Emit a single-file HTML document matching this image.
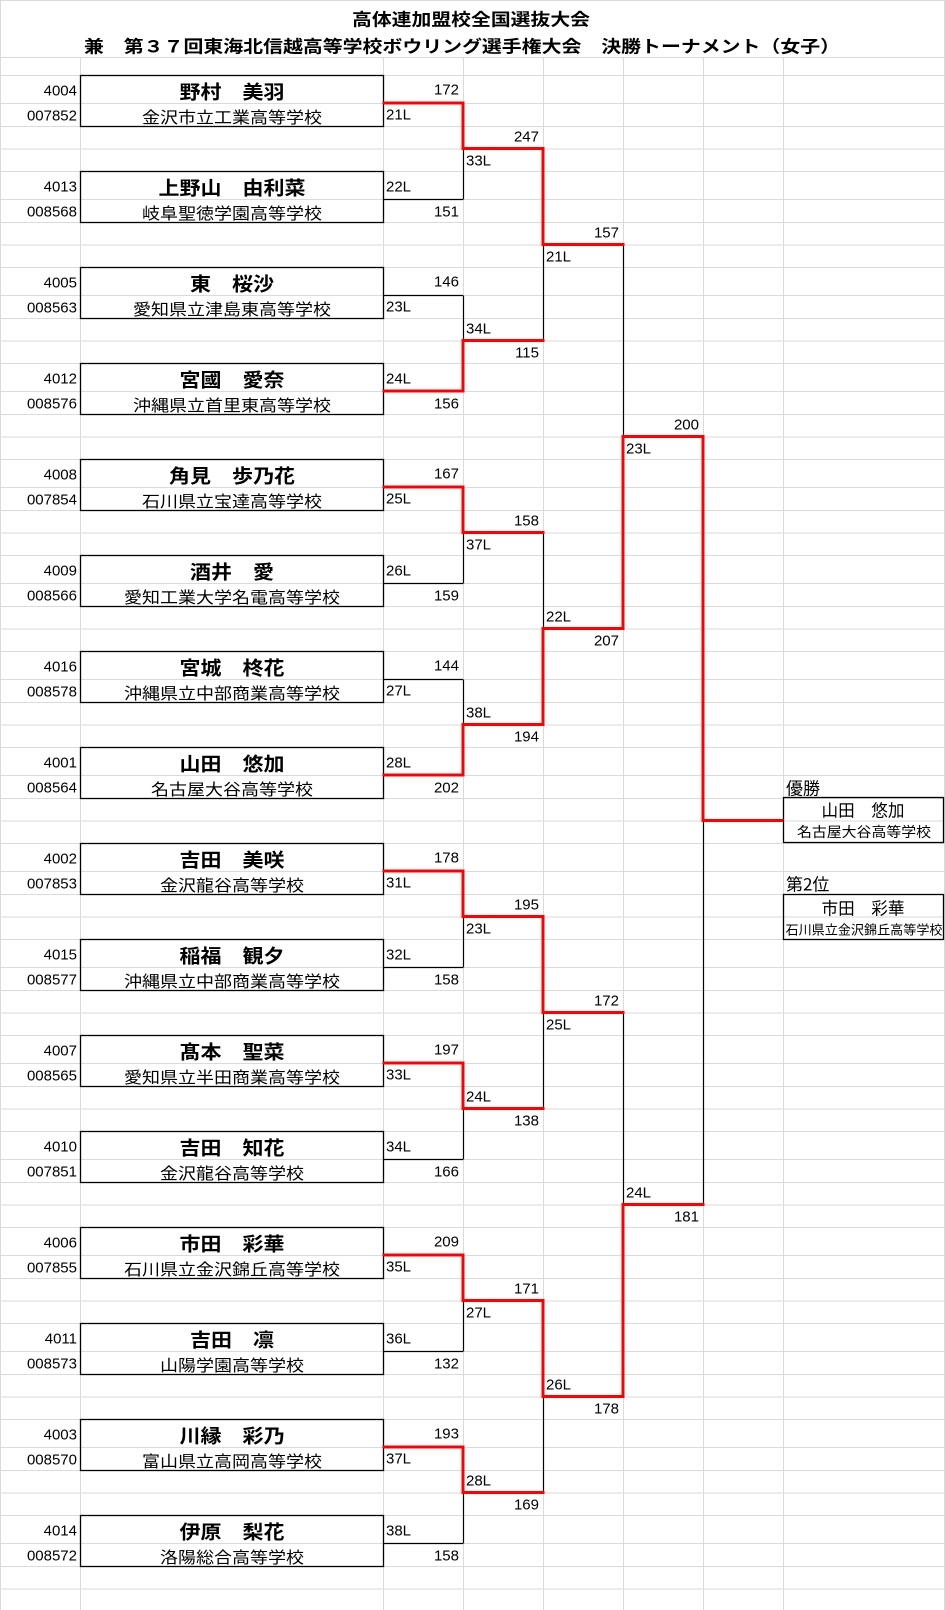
<!DOCTYPE html>
<html><head><meta charset="utf-8"><style>
html,body{margin:0;padding:0;background:#fff;}
svg{display:block;}
text{font-family:"Liberation Sans","Noto Sans CJK JP",sans-serif;fill:#000;dominant-baseline:central;}
.j{font-family:"Noto Sans CJK JP","Liberation Sans",sans-serif;}
.nm{font-size:19px;font-weight:bold;text-anchor:middle;}
.sc{font-size:16px;text-anchor:middle;}
.id{font-size:15px;text-anchor:end;}
.r{font-size:15px;text-anchor:end;}
.l{font-size:15px;text-anchor:start;}
.tt{font-size:17px;font-weight:bold;text-anchor:middle;}
</style></head><body>
<svg width="945" height="1610" viewBox="0 0 945 1610" xmlns="http://www.w3.org/2000/svg">
<g stroke="#dadada" stroke-width="1" fill="none">
<path d="M0 0.5H945M0 57.5H945M0 75.5H945
M0 103.5H945M0 126.5H945M0 149H945M0 171.5H945M0 199.5H945M0 222.5H945M0 245H945M0 267.5H945
M0 295.5H945M0 318.5H945M0 341H945M0 363.5H945M0 391.5H945M0 414.5H945M0 437H945M0 459.5H945
M0 487.5H945M0 510.5H945M0 533H945M0 555.5H945M0 583.5H945M0 606.5H945M0 629H945M0 651.5H945
M0 679.5H945M0 702.5H945M0 725H945M0 747.5H945M0 775.5H945M0 798.5H945M0 821H945M0 843.5H945
M0 871.5H945M0 894.5H945M0 917H945M0 939.5H945M0 967.5H945M0 990.5H945M0 1013H945M0 1035.5H945
M0 1063.5H945M0 1086.5H945M0 1109H945M0 1131.5H945M0 1159.5H945M0 1182.5H945M0 1205H945M0 1227.5H945
M0 1255.5H945M0 1278.5H945M0 1301H945M0 1323.5H945M0 1351.5H945M0 1374.5H945M0 1397H945M0 1419.5H945
M0 1447.5H945M0 1470.5H945M0 1493H945M0 1515.5H945M0 1543.5H945M0 1566.5H945M0 1589H945"/>
<path d="M0.5 0V1610M80.5 57V1610M383.5 57V1610M463.5 57V1610M543.5 57V1610M623.5 57V1610M703.5 57V1610M783.5 57V1610M944.5 0V1610"/>
</g>
<text class="tt j" x="471" y="18" textLength="238" lengthAdjust="spacingAndGlyphs">高体連加盟校全国選抜大会</text>
<text class="tt j" x="462" y="45" textLength="756" lengthAdjust="spacingAndGlyphs">兼　第３７回東海北信越高等学校ボウリング選手権大会　決勝トーナメント（女子）</text>
<g stroke="#000" stroke-width="1.3" fill="none">
<rect x="80.5" y="75.5" width="303" height="51"/>
<rect x="80.5" y="171.5" width="303" height="51"/>
<rect x="80.5" y="267.5" width="303" height="51"/>
<rect x="80.5" y="363.5" width="303" height="51"/>
<rect x="80.5" y="459.5" width="303" height="51"/>
<rect x="80.5" y="555.5" width="303" height="51"/>
<rect x="80.5" y="651.5" width="303" height="51"/>
<rect x="80.5" y="747.5" width="303" height="51"/>
<rect x="80.5" y="843.5" width="303" height="51"/>
<rect x="80.5" y="939.5" width="303" height="51"/>
<rect x="80.5" y="1035.5" width="303" height="51"/>
<rect x="80.5" y="1131.5" width="303" height="51"/>
<rect x="80.5" y="1227.5" width="303" height="51"/>
<rect x="80.5" y="1323.5" width="303" height="51"/>
<rect x="80.5" y="1419.5" width="303" height="51"/>
<rect x="80.5" y="1515.5" width="303" height="51"/>
<rect x="783.5" y="797.5" width="160" height="45"/>
<rect x="783.5" y="894.5" width="160" height="45"/>
</g>
<g stroke="#000" stroke-width="1.2" fill="none">
<path d="M383 199.5H463M383 295.5H463M383 583.5H463M383 679.5H463M383 967.5H463M383 1159.5H463M383 1351.5H463M383 1543.5H463"/>
<path d="M463.5 148.5V199.5M463.5 295.5V340.5M463.5 532.5V583.5M463.5 679.5V724.5M463.5 916.5V967.5M463.5 1108.5V1159.5M463.5 1300.5V1351.5M463.5 1492.5V1543.5"/>
<path d="M543.5 244.5V340.5M543.5 532.5V628.5M543.5 1012.5V1108.5M543.5 1396.5V1492.5"/>
<path d="M623.5 244.5V436.5M623.5 1012.5V1204.5M703.5 820.5V1204.5"/>
</g>
<g stroke="#ff0000" stroke-width="3" fill="none" stroke-linecap="square">
<path d="M384 103H463V148.5H543V244.5H623"/>
<path d="M384 391H463V340.5H543"/>
<path d="M384 487H463V532.5H543"/>
<path d="M384 775H463V724.5H543V628.5H623V436.5H703V820.5H782"/>
<path d="M384 871H463V916.5H543V1012.5H623"/>
<path d="M384 1063H463V1108.5H543"/>
<path d="M384 1255H463V1300.5H543V1396.5H623V1204.5H703"/>
<path d="M384 1447H463V1492.5H543"/>
</g>
<g>
<text class="id" x="77" y="91">4004</text><text class="id" x="77" y="116">007852</text>
<text class="nm j" x="232" y="91" textLength="105" lengthAdjust="spacingAndGlyphs">野村　美羽</text><text class="sc j" x="232" y="116" textLength="180" lengthAdjust="spacingAndGlyphs">金沢市立工業高等学校</text>
<text class="id" x="77" y="187">4013</text><text class="id" x="77" y="212">008568</text>
<text class="nm j" x="232" y="187" textLength="147" lengthAdjust="spacingAndGlyphs">上野山　由利菜</text><text class="sc j" x="232" y="212" textLength="180" lengthAdjust="spacingAndGlyphs">岐阜聖徳学園高等学校</text>
<text class="id" x="77" y="283">4005</text><text class="id" x="77" y="308">008563</text>
<text class="nm j" x="232" y="283" textLength="84" lengthAdjust="spacingAndGlyphs">東　桜沙</text><text class="sc j" x="232" y="308" textLength="198" lengthAdjust="spacingAndGlyphs">愛知県立津島東高等学校</text>
<text class="id" x="77" y="379">4012</text><text class="id" x="77" y="404">008576</text>
<text class="nm j" x="232" y="379" textLength="105" lengthAdjust="spacingAndGlyphs">宮國　愛奈</text><text class="sc j" x="232" y="404" textLength="198" lengthAdjust="spacingAndGlyphs">沖縄県立首里東高等学校</text>
<text class="id" x="77" y="475">4008</text><text class="id" x="77" y="500">007854</text>
<text class="nm j" x="232" y="475" textLength="126" lengthAdjust="spacingAndGlyphs">角見　歩乃花</text><text class="sc j" x="232" y="500" textLength="180" lengthAdjust="spacingAndGlyphs">石川県立宝達高等学校</text>
<text class="id" x="77" y="571">4009</text><text class="id" x="77" y="596">008566</text>
<text class="nm j" x="232" y="571" textLength="84" lengthAdjust="spacingAndGlyphs">酒井　愛</text><text class="sc j" x="232" y="596" textLength="216" lengthAdjust="spacingAndGlyphs">愛知工業大学名電高等学校</text>
<text class="id" x="77" y="667">4016</text><text class="id" x="77" y="692">008578</text>
<text class="nm j" x="232" y="667" textLength="105" lengthAdjust="spacingAndGlyphs">宮城　柊花</text><text class="sc j" x="232" y="692" textLength="216" lengthAdjust="spacingAndGlyphs">沖縄県立中部商業高等学校</text>
<text class="id" x="77" y="763">4001</text><text class="id" x="77" y="788">008564</text>
<text class="nm j" x="232" y="763" textLength="105" lengthAdjust="spacingAndGlyphs">山田　悠加</text><text class="sc j" x="232" y="788" textLength="162" lengthAdjust="spacingAndGlyphs">名古屋大谷高等学校</text>
<text class="id" x="77" y="859">4002</text><text class="id" x="77" y="884">007853</text>
<text class="nm j" x="232" y="859" textLength="105" lengthAdjust="spacingAndGlyphs">吉田　美咲</text><text class="sc j" x="232" y="884" textLength="144" lengthAdjust="spacingAndGlyphs">金沢龍谷高等学校</text>
<text class="id" x="77" y="955">4015</text><text class="id" x="77" y="980">008577</text>
<text class="nm j" x="232" y="955" textLength="105" lengthAdjust="spacingAndGlyphs">稲福　観夕</text><text class="sc j" x="232" y="980" textLength="216" lengthAdjust="spacingAndGlyphs">沖縄県立中部商業高等学校</text>
<text class="id" x="77" y="1051">4007</text><text class="id" x="77" y="1076">008565</text>
<text class="nm j" x="232" y="1051" textLength="105" lengthAdjust="spacingAndGlyphs">髙本　聖菜</text><text class="sc j" x="232" y="1076" textLength="216" lengthAdjust="spacingAndGlyphs">愛知県立半田商業高等学校</text>
<text class="id" x="77" y="1147">4010</text><text class="id" x="77" y="1172">007851</text>
<text class="nm j" x="232" y="1147" textLength="105" lengthAdjust="spacingAndGlyphs">吉田　知花</text><text class="sc j" x="232" y="1172" textLength="144" lengthAdjust="spacingAndGlyphs">金沢龍谷高等学校</text>
<text class="id" x="77" y="1243">4006</text><text class="id" x="77" y="1268">007855</text>
<text class="nm j" x="232" y="1243" textLength="105" lengthAdjust="spacingAndGlyphs">市田　彩華</text><text class="sc j" x="232" y="1268" textLength="216" lengthAdjust="spacingAndGlyphs">石川県立金沢錦丘高等学校</text>
<text class="id" x="77" y="1339">4011</text><text class="id" x="77" y="1364">008573</text>
<text class="nm j" x="232" y="1339" textLength="84" lengthAdjust="spacingAndGlyphs">吉田　凛</text><text class="sc j" x="232" y="1364" textLength="144" lengthAdjust="spacingAndGlyphs">山陽学園高等学校</text>
<text class="id" x="77" y="1435">4003</text><text class="id" x="77" y="1460">008570</text>
<text class="nm j" x="232" y="1435" textLength="105" lengthAdjust="spacingAndGlyphs">川縁　彩乃</text><text class="sc j" x="232" y="1460" textLength="180" lengthAdjust="spacingAndGlyphs">富山県立高岡高等学校</text>
<text class="id" x="77" y="1531">4014</text><text class="id" x="77" y="1556">008572</text>
<text class="nm j" x="232" y="1531" textLength="105" lengthAdjust="spacingAndGlyphs">伊原　梨花</text><text class="sc j" x="232" y="1556" textLength="144" lengthAdjust="spacingAndGlyphs">洛陽総合高等学校</text>
</g>
<g>
<text class="r" x="459" y="90">172</text><text class="l" x="386" y="115">21L</text>
<text class="l" x="386" y="187">22L</text><text class="r" x="459" y="212">151</text>
<text class="r" x="459" y="282">146</text><text class="l" x="386" y="307">23L</text>
<text class="l" x="386" y="379">24L</text><text class="r" x="459" y="404">156</text>
<text class="r" x="459" y="474">167</text><text class="l" x="386" y="499">25L</text>
<text class="l" x="386" y="571">26L</text><text class="r" x="459" y="596">159</text>
<text class="r" x="459" y="666">144</text><text class="l" x="386" y="691">27L</text>
<text class="l" x="386" y="763">28L</text><text class="r" x="459" y="788">202</text>
<text class="r" x="459" y="858">178</text><text class="l" x="386" y="883">31L</text>
<text class="l" x="386" y="955">32L</text><text class="r" x="459" y="980">158</text>
<text class="r" x="459" y="1050">197</text><text class="l" x="386" y="1075">33L</text>
<text class="l" x="386" y="1147">34L</text><text class="r" x="459" y="1172">166</text>
<text class="r" x="459" y="1242">209</text><text class="l" x="386" y="1267">35L</text>
<text class="l" x="386" y="1339">36L</text><text class="r" x="459" y="1364">132</text>
<text class="r" x="459" y="1434">193</text><text class="l" x="386" y="1459">37L</text>
<text class="l" x="386" y="1531">38L</text><text class="r" x="459" y="1556">158</text>
</g>
<g>
<text class="r" x="539" y="137">247</text><text class="l" x="466" y="161">33L</text>
<text class="l" x="466" y="329">34L</text><text class="r" x="539" y="353">115</text>
<text class="r" x="539" y="521">158</text><text class="l" x="466" y="545">37L</text>
<text class="l" x="466" y="713">38L</text><text class="r" x="539" y="737">194</text>
<text class="r" x="539" y="905">195</text><text class="l" x="466" y="929">23L</text>
<text class="l" x="466" y="1097">24L</text><text class="r" x="539" y="1121">138</text>
<text class="r" x="539" y="1289">171</text><text class="l" x="466" y="1313">27L</text>
<text class="l" x="466" y="1481">28L</text><text class="r" x="539" y="1505">169</text>
</g>
<g>
<text class="r" x="619" y="233">157</text><text class="l" x="546" y="257">21L</text>
<text class="l" x="546" y="617">22L</text><text class="r" x="619" y="641">207</text>
<text class="r" x="619" y="1001">172</text><text class="l" x="546" y="1025">25L</text>
<text class="l" x="546" y="1385">26L</text><text class="r" x="619" y="1409">178</text>
<text class="r" x="699" y="425">200</text><text class="l" x="626" y="449">23L</text>
<text class="l" x="626" y="1193">24L</text><text class="r" x="699" y="1217">181</text>
</g>
<g>
<text class="j" x="786" y="787" font-size="17">優勝</text>
<text class="j" x="863" y="809" font-size="17" text-anchor="middle" textLength="83" lengthAdjust="spacingAndGlyphs">山田　悠加</text>
<text class="j" x="864" y="832" font-size="14" text-anchor="middle" textLength="134" lengthAdjust="spacingAndGlyphs">名古屋大谷高等学校</text>
<text class="j" x="786" y="883" font-size="17">第2位</text>
<text class="j" x="863" y="907" font-size="17" text-anchor="middle" textLength="83" lengthAdjust="spacingAndGlyphs">市田　彩華</text>
<text class="j" x="864" y="929" font-size="13" text-anchor="middle" textLength="157" lengthAdjust="spacingAndGlyphs">石川県立金沢錦丘高等学校</text>
</g>
</svg>
</body></html>
